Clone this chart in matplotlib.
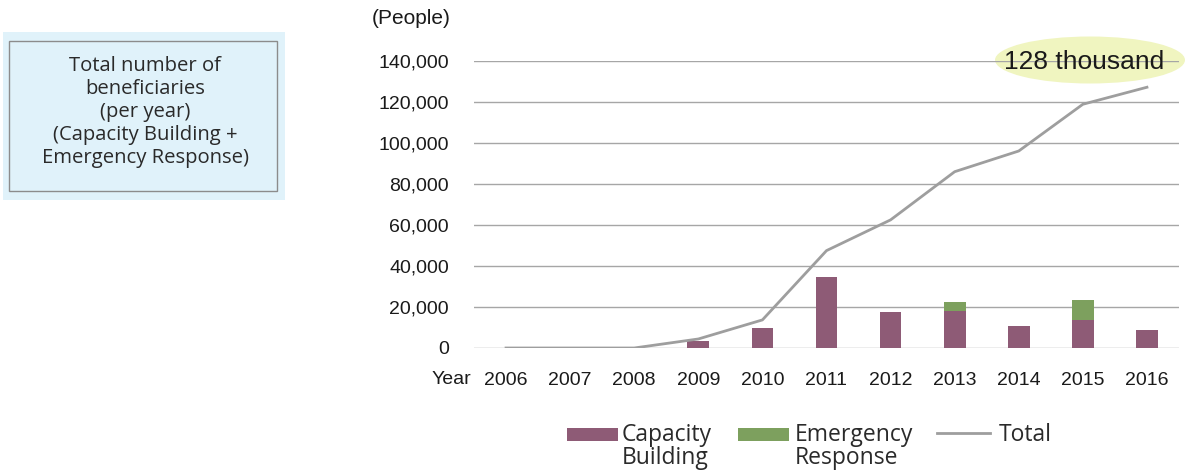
import matplotlib.pyplot as plt
from matplotlib.patches import Ellipse, Rectangle
from matplotlib.lines import Line2D
import numpy as np

years = ['2006', '2007', '2008', '2009', '2010', '2011', '2012', '2013', '2014', '2015', '2016']
capacity_building = [0, 0, 0, 3400, 9900, 34500, 17400, 18000, 10700, 13700, 8800]
emergency_response = [0, 0, 0, 0, 0, 0, 0, 4600, 0, 9700, 0]
total = [0, 0, 0, 4400, 13700, 47500, 62500, 86000, 96100, 118900, 127200]
yticks = [0, 20000, 40000, 60000, 80000, 100000, 120000, 140000]
legend_labels = ['Capacity\nBuilding', 'Emergency\nResponse', 'Total']

purple = '#8E5B76'
green = '#7DA05E'
grey_line = '#9E9E9E'
txt = '#1a1a1a'

fig = plt.figure(figsize=(11.88, 4.70), dpi=100)
W, H = 1188, 470


def fx(px):
    return px / W


def fy(py):
    return 1 - py / H


ax = fig.add_axes([fx(474), fy(348), (1179 - 474) / W, (348 - 61) / H])
ax.patch.set_visible(False)

x = np.arange(len(years))
ax.bar(x, capacity_building, width=0.34, color=purple, zorder=3)
ax.bar(x, emergency_response, width=0.34, bottom=capacity_building, color=green, zorder=3)
ax.plot(x, total, color=grey_line, lw=2, zorder=4)

ax.set_xlim(-0.5, len(years) - 0.5)
ax.set_ylim(0, 140000)
ax.set_yticks(yticks)
ax.set_yticklabels([f'{v:,}' for v in yticks])
ax.set_xticks(x)
ax.set_xticklabels(years)
ax.grid(axis='y', color='#A6A6A6', lw=1, zorder=0)
ax.set_axisbelow(True)
for s in ax.spines.values():
    s.set_visible(False)
ax.tick_params(axis='both', length=0, labelsize=14, labelcolor=txt, labelfontfamily='Liberation Sans')
ax.tick_params(axis='y', pad=18)
ax.tick_params(axis='x', pad=17)

fig.text(fx(451), fy(379), 'Year', ha='center', va='center', fontsize=14,
         family='Liberation Sans', color=txt)
fig.text(fx(411), fy(18), '(People)', ha='center', va='center', fontsize=15,
         family='Liberation Sans', color=txt)

# annotation ellipse (under the gridline)
ell = Ellipse((fx(1090), fy(60)), 190 / W, 47 / H, transform=fig.transFigure,
              facecolor='#F0F5C0', edgecolor='none', zorder=-1)
fig.add_artist(ell)
fig.text(fx(1084), fy(62), '128 thousand', ha='center', va='center', fontsize=19,
         family='Liberation Sans', color=txt, zorder=5)

# left info box
outer = Rectangle((fx(3), fy(200)), 282 / W, 168 / H, transform=fig.transFigure,
                  facecolor='#E0F2FA', edgecolor='none')
inner = Rectangle((fx(9), fy(191)), 268 / W, 150 / H, transform=fig.transFigure,
                  facecolor='none', edgecolor='#8C8C8C', lw=1)
fig.add_artist(outer)
fig.add_artist(inner)
fig.text(fx(145), fy(112),
         'Total number of\nbeneficiaries\n(per year)\n(Capacity Building +\nEmergency Response)',
         ha='center', va='center', fontsize=14.6, family='Open Sans', color='#2a2a2a',
         linespacing=1.2)

# legend, handles aligned with the first label line
fig.add_artist(Rectangle((fx(567), fy(441)), 51 / W, 13 / H, transform=fig.transFigure,
                         facecolor=purple, edgecolor='none'))
fig.add_artist(Rectangle((fx(738), fy(441)), 51 / W, 13 / H, transform=fig.transFigure,
                         facecolor=green, edgecolor='none'))
fig.add_artist(Line2D([fx(937), fx(990)], [fy(433), fy(433)], transform=fig.transFigure,
                      color=grey_line, lw=2))
for lx, lab in zip([622, 795, 999], legend_labels):
    fig.text(fx(lx), fy(423), lab, ha='left', va='top', fontsize=16.5,
             family='Open Sans', color='#2a2a2a', linespacing=0.95)

fig.savefig('out.png', dpi=100)
